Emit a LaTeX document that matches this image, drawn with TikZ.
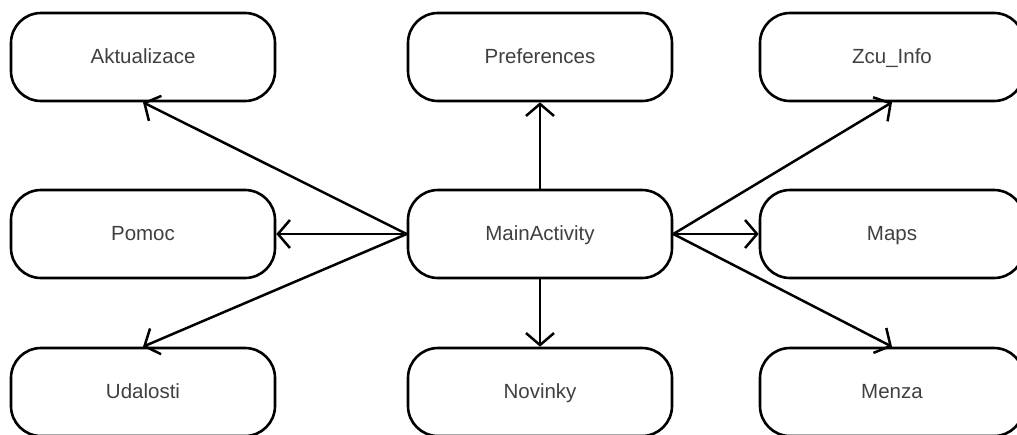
\documentclass[tikz,border=0pt]{standalone}
\usepackage{fontspec}
\setmainfont{Liberation Sans}
\usetikzlibrary{arrows.meta}

\tikzset{
    activity/.style={draw, line width=2.6pt, rounded corners=30pt,
        minimum width=264pt, minimum height=88pt, inner sep=0pt,
        text height=16pt, text depth=4pt,
        text=black!75, font=\fontsize{20.5}{24}\selectfont},
    link/.style={line width=2.5pt, -{Straight Barb[length=12pt, width=28pt, line width=2.5pt]}}
}

\begin{document}
\begin{tikzpicture}[x=1pt, y=-1pt]
        % ==== FRAME ====
        \useasboundingbox (0,0) rectangle (1017,434);
        \fill[white] (0,0) rectangle (1017,434);

        % ==== ACTIVITIES ====
        \node[activity] (aktualizace) at (143,57) {Aktualizace};
        \node[activity] (preferences) at (540,57) {Preferences};
        \node[activity] (zcuinfo) at (892,57) {Zcu\_Info};

        \node[activity] (pomoc) at (143,234) {Pomoc};
        \node[activity] (main) at (540,234) {MainActivity};
        \node[activity] (maps) at (892,234) {Maps};

        \node[activity] (udalosti) at (143,392) {Udalosti};
        \node[activity] (novinky) at (540,392) {Novinky};
        \node[activity] (menza) at (892,392) {Menza};

        % ==== LINKS ====
        \draw[link] (main.west) -- (aktualizace.south);
        \draw[link] (main.west) -- (pomoc.east);
        \draw[link] (main.west) -- (udalosti.north);
        \draw[link] (main.north) -- (preferences.south);
        \draw[link] (main.south) -- (novinky.north);
        \draw[link] (main.east) -- (zcuinfo.south);
        \draw[link] (main.east) -- (maps.west);
        \draw[link] (main.east) -- (menza.north);

\end{tikzpicture}
\end{document}
